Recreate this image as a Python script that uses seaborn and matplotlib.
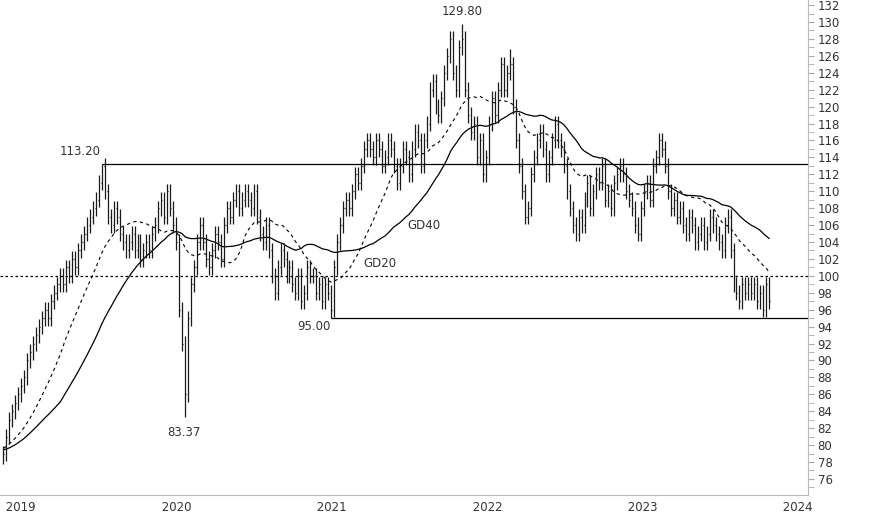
import numpy as np
import pandas as pd
import matplotlib
matplotlib.use("Agg")
import matplotlib.pyplot as plt
import matplotlib.dates as mdates
import seaborn as sns

closes = [
 79,81,83,84,85,86, 87,88,90,91,92,93, 94,95,96,95,97,98, 99,100,99,101,100,102,
 101,103,104,105,106,107, 108,109,111,113,110,107, 106,108,107,105,104,103,
 104,105,103,104,102,103, 104,103,105,106,
 108,109,107,110,108,106, 104,96,92,86,95,99, 101,104,106,104,102,101,
 103,105,104,102,106,108, 107,109,110,108,109,110, 109,108,110,107,105,104,
 106,103,100,98,101,103, 102,100,101,99,98,100, 97,98,101,100,
 100,98,99,97,99,98, 96,101,104,106,108,109, 108,110,112,111,113,115,
 116,115,114,116,115,113, 114,116,115,113,111,113, 115,114,112,115,117,116,
 113,116,118,122,123,120, 119,121,124,126,128,124, 122,127,128,122,
 119,117,118,114,116,112, 114,118,121,119,122,125, 122,124,125,120,116,113,
 110,107,108,112,114,116, 117,115,112,114,116,118, 116,115,113,110,108,106,
 105,107,106,109,111,108, 110,112,111,113,109,110, 108,111,112,113,
 112,110,109,108,106,105, 108,110,111,109,113,114, 116,115,113,110,108,109,
 107,108,106,105,107,106, 104,105,106,104,105,107, 106,105,104,103,106,107,
 103,99,98,97,99,98, 99,98,99,97,98,96, 99,97,
]
extreme_lows = {61: 83.37, 110: 95.00, 0: 77.8}
extreme_highs = {33: 113.20, 154: 129.80, 170: 126.8}
ma_prefix = [76, 76.5, 77, 77.5, 78, 78, 78.5, 79, 79, 79.5, 80, 80, 80, 80.5, 81, 81, 81.5, 82, 82, 82.5]
ref_level = 100.0
resist_level = 113.20
support_level = 95.00

dates = pd.date_range("2019-01-04", periods=len(closes), freq="7D")
c = np.array(closes, float)
o = np.concatenate([[c[0] - 1], c[:-1]])
h = np.maximum(o, c) + 0.9
l = np.minimum(o, c) - 0.9
for k, v in extreme_lows.items():
    l[k] = v
for k, v in extreme_highs.items():
    h[k] = v

full = pd.Series(np.concatenate([ma_prefix, c]))
gd20 = full.rolling(20, min_periods=1).mean().values[len(ma_prefix):]
gd40 = full.rolling(40, min_periods=1).mean().values[len(ma_prefix):]

sns.set_style("white")
plt.rcParams['font.family'] = ['DejaVu Sans']
fig = plt.figure(figsize=(8.74, 5.15), dpi=100)
ax = fig.add_axes([0, 20/515, 808/874, 495/515])

df = pd.DataFrame({"date": dates, "gd20": gd20, "gd40": gd40})
sns.lineplot(data=df, x="date", y="gd40", ax=ax, color="black", lw=0.9)
sns.lineplot(data=df, x="date", y="gd20", ax=ax, color="black", lw=0.8, linestyle=(0, (3, 3)))

dn = mdates.date2num(dates)
w = 1.5
ax.vlines(dn, l, h, color="#1a1a1a", lw=0.9)
ax.hlines(o, dn - w, dn, color="#1a1a1a", lw=0.9)
ax.hlines(c, dn, dn + w, color="#1a1a1a", lw=0.9)

x0 = mdates.date2num(pd.Timestamp("2018-12-27"))
x1 = mdates.date2num(pd.Timestamp("2024-03-08"))
ax.set_xlim(x0, x1)
ax.set_ylim(74.1, 132.6)
ax.axhline(ref_level, color="black", lw=0.9, linestyle=(0, (2, 2)))
ax.hlines(resist_level, dn[33], x1, color="black", lw=0.9)
ax.hlines(support_level, dn[110], x1, color="black", lw=0.9)

ax.text(dn[33] - 3, 113.9, "113.20", ha="right", va="bottom", fontsize=8.5, color="#333333")
ax.text(dn[61] - 2, 82.2, "83.37", ha="center", va="top", fontsize=8.5, color="#333333")
ax.text(dn[110] - 2, 94.0, "95.00", ha="right", va="center", fontsize=8.5, color="#333333")
ax.text(dn[154], 130.5, "129.80", ha="center", va="bottom", fontsize=8.5, color="#333333")
ax.text(mdates.date2num(pd.Timestamp("2021-08-10")), 105.9, "GD40", ha="left", va="center", fontsize=8.5, color="#333333")
ax.text(mdates.date2num(pd.Timestamp("2021-04-28")), 101.5, "GD20", ha="left", va="center", fontsize=8.5, color="#333333")

ax.set_xlabel(""); ax.set_ylabel("")
ax.yaxis.tick_right()
ax.set_yticks(np.arange(76, 133, 2))
ax.set_yticks(np.arange(75, 133, 2), minor=True)
ax.tick_params(axis="y", which="both", length=4, color="#aaaaaa", labelsize=8.5, labelcolor="#333333", pad=3, direction="out")
ax.xaxis.set_major_locator(mdates.YearLocator())
ax.xaxis.set_major_formatter(mdates.DateFormatter(" %Y"))
ax.xaxis.set_minor_locator(mdates.MonthLocator())
ax.tick_params(axis="x", which="major", length=20, color="#aaaaaa", labelsize=8.5, labelcolor="#333333", direction="out", pad=-16)
ax.tick_params(axis="x", which="minor", length=3, color="#aaaaaa", direction="out")
for lab in ax.get_xticklabels():
    lab.set_horizontalalignment("left")
for side in ["top", "left"]:
    ax.spines[side].set_visible(False)
for side in ["right", "bottom"]:
    ax.spines[side].set_color("#bbbbbb")
fig.savefig("out.png", dpi=100)
